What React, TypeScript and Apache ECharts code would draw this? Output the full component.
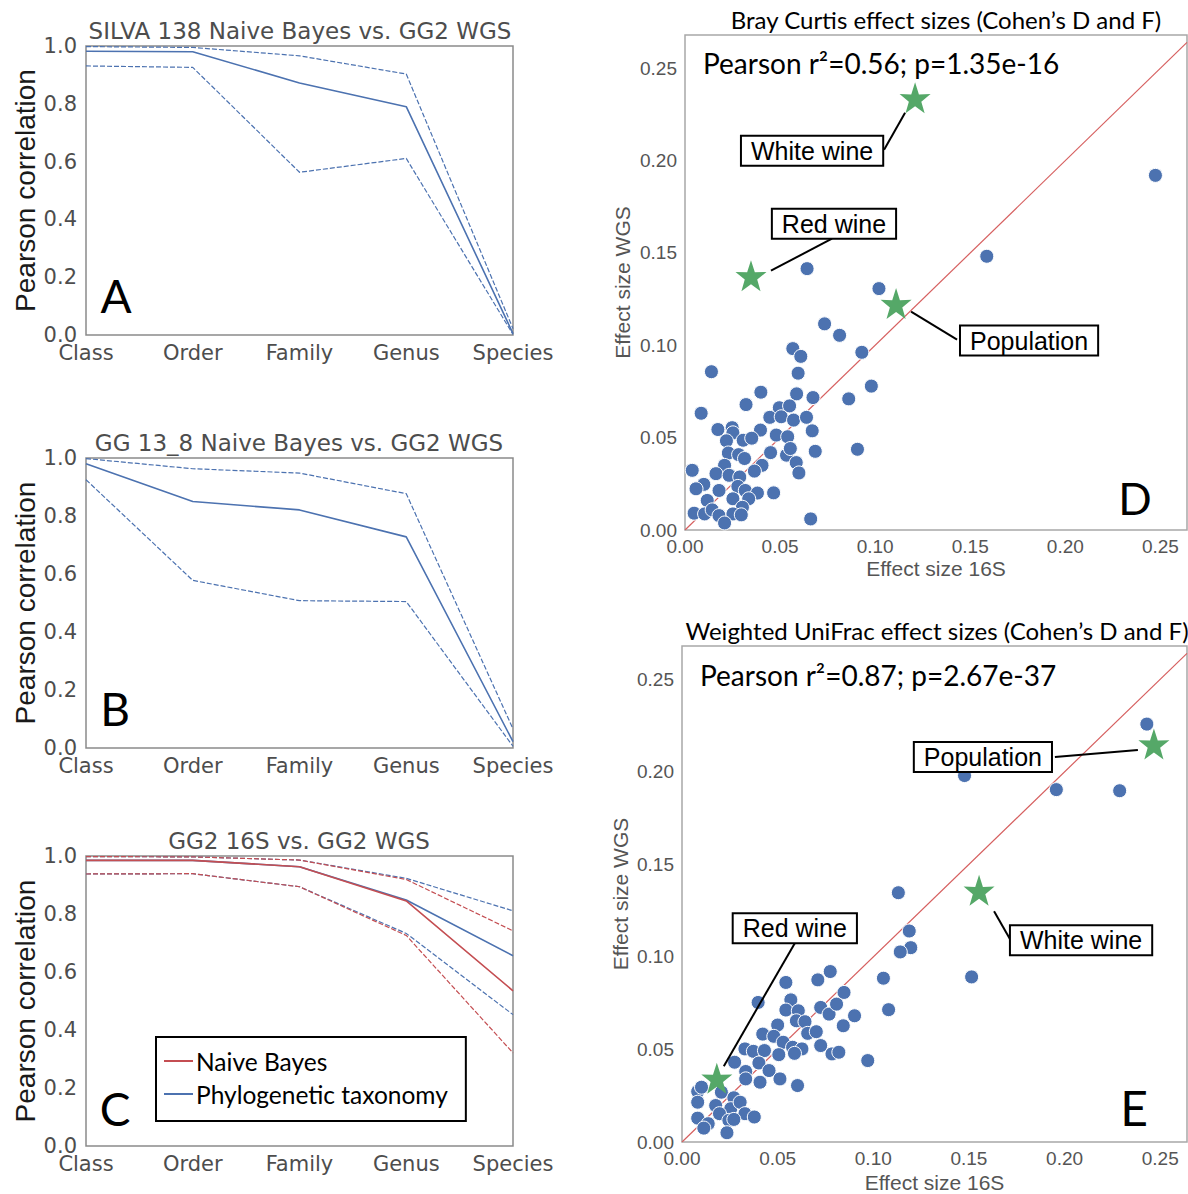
import React, { useEffect, useRef } from 'react';
import * as echarts from 'echarts';

// ---------- Data ----------
const CATEGORIES = ['Class', 'Order', 'Family', 'Genus', 'Species'];
const Y_TICKS_CORR = [0, 0.2, 0.4, 0.6, 0.8, 1.0];

// Panel A: SILVA 138 Naive Bayes vs. GG2 WGS
const silvaMean = [0.982, 0.98, 0.872, 0.79, 0.005];
const silvaUpper = [0.998, 0.995, 0.966, 0.903, 0.022];
const silvaLower = [0.931, 0.926, 0.563, 0.611, 0.002];

// Panel B: GG 13_8 Naive Bayes vs. GG2 WGS
const gg138Mean = [0.98, 0.85, 0.821, 0.728, 0.022];
const gg138Upper = [0.998, 0.963, 0.948, 0.877, 0.066];
const gg138Lower = [0.925, 0.578, 0.508, 0.505, 0.006];

// Panel C: GG2 16S vs. GG2 WGS
const nbMean = [0.985, 0.985, 0.963, 0.845, 0.535];
const nbUpper = [0.998, 0.997, 0.986, 0.919, 0.742];
const nbLower = [0.938, 0.939, 0.894, 0.726, 0.321];
const phyMean = [0.985, 0.985, 0.963, 0.848, 0.656];
const phyUpper = [0.998, 0.997, 0.986, 0.923, 0.811];
const phyLower = [0.938, 0.939, 0.894, 0.733, 0.453];

// Panel D: Bray Curtis effect sizes [16S, WGS]
const brayPoints = [
  [0.102, 0.1307], [0.0734, 0.1116], [0.0813, 0.1054], [0.0567, 0.0982], [0.0609, 0.094],
  [0.093, 0.0962], [0.0139, 0.0857], [0.0595, 0.0849], [0.0399, 0.0746], [0.0587, 0.0737],
  [0.0673, 0.0717], [0.098, 0.0779], [0.0861, 0.071], [0.0085, 0.0632], [0.0321, 0.0679],
  [0.0496, 0.0662], [0.055, 0.0672], [0.0446, 0.061], [0.0506, 0.0613], [0.0571, 0.0595],
  [0.0639, 0.061], [0.0173, 0.0544], [0.0248, 0.0554], [0.0252, 0.0526], [0.0397, 0.0541],
  [0.0669, 0.0537], [0.0218, 0.0483], [0.0306, 0.0486], [0.0351, 0.0497], [0.048, 0.0514],
  [0.054, 0.0505], [0.0228, 0.0417], [0.0282, 0.0408], [0.0313, 0.0387], [0.045, 0.0419],
  [0.0534, 0.0405], [0.0554, 0.0441], [0.0685, 0.0426], [0.0907, 0.0437], [0.0208, 0.035],
  [0.0405, 0.035], [0.0585, 0.0365], [0.0599, 0.0309], [0.0038, 0.0323], [0.0163, 0.0305],
  [0.0232, 0.0296], [0.0288, 0.0287], [0.0365, 0.0319], [0.0099, 0.0247], [0.0058, 0.0223],
  [0.0179, 0.0214], [0.0278, 0.0236], [0.0317, 0.0214], [0.0381, 0.02], [0.0466, 0.0201],
  [0.0117, 0.016], [0.0252, 0.0169], [0.0335, 0.0169], [0.0302, 0.0123], [0.0048, 0.0091],
  [0.0103, 0.0087], [0.0143, 0.0109], [0.0179, 0.0078], [0.0252, 0.0087], [0.0296, 0.0082],
  [0.0208, 0.0038], [0.0661, 0.006], [0.0642, 0.1415], [0.1587, 0.1482], [0.2474, 0.192],
];
const brayStarNames = ['White wine', 'Red wine', 'Population'];
const brayStar16S = [0.121, 0.0347, 0.111];
const brayStarWGS = [0.234, 0.1377, 0.1226];

// Panel E: Weighted UniFrac effect sizes [16S, WGS]
const unifracPoints = [
  [0.243, 0.2258], [0.1477, 0.198], [0.1957, 0.1904], [0.2288, 0.1898], [0.1131, 0.1347],
  [0.1188, 0.114], [0.1196, 0.105], [0.1141, 0.1027], [0.1053, 0.0885], [0.1514, 0.0892],
  [0.108, 0.0715], [0.0543, 0.0862], [0.071, 0.0876], [0.0775, 0.0921], [0.0847, 0.0808],
  [0.0398, 0.0754], [0.0569, 0.0768], [0.0543, 0.0713], [0.0608, 0.0709], [0.0725, 0.0727],
  [0.0769, 0.0691], [0.0808, 0.0745], [0.0902, 0.0682], [0.0598, 0.0655], [0.0643, 0.065],
  [0.0843, 0.0628], [0.05, 0.0632], [0.0422, 0.0583], [0.048, 0.0571], [0.0657, 0.0587],
  [0.0702, 0.0596], [0.0529, 0.0539], [0.0578, 0.0512], [0.0627, 0.0503], [0.0725, 0.0521],
  [0.0784, 0.0476], [0.082, 0.0485], [0.0971, 0.044], [0.0329, 0.0503], [0.0373, 0.049],
  [0.0431, 0.0494], [0.0506, 0.0472], [0.0588, 0.0479], [0.0275, 0.0431], [0.0402, 0.0427],
  [0.0333, 0.0381], [0.0455, 0.0386], [0.0333, 0.0341], [0.0408, 0.0323], [0.0512, 0.0341],
  [0.0604, 0.0305], [0.0082, 0.0273], [0.0102, 0.0296], [0.0206, 0.0269], [0.0271, 0.0239],
  [0.0082, 0.0215], [0.0176, 0.0197], [0.0255, 0.018], [0.0304, 0.0215], [0.0196, 0.0153],
  [0.0245, 0.0117], [0.0329, 0.0153], [0.0378, 0.0135], [0.0082, 0.0129], [0.0137, 0.0099],
  [0.0114, 0.0075], [0.0235, 0.005], [0.0271, 0.0122],
];
const unifracStarNames = ['Population', 'White wine', 'Red wine'];
const unifracStar16S = [0.2467, 0.1553, 0.0182];
const unifracStarWGS = [0.2151, 0.136, 0.0345];

const EFFECT_TICKS = [0, 0.05, 0.1, 0.15, 0.2, 0.25];

// ---------- Layout / style (not data) ----------
const BLUE = '#4c72b0';
const RED = '#c44e52';
const GREEN = '#55a868';
// label-box centre offsets from each star, in px
const BRAY_LABEL_OFFSETS = [[-103, 53], [83, -52], [133, 37]];
const UNIFRAC_LABEL_OFFSETS = [[-171, 13], [102, 50], [78, -150]];
// leader line [start offset, end offset] from each star, in px
const BRAY_LEADERS = [[[-10, 15], [-31, 52]], [[20, -5], [81, -37]], [[15, 8], [61, 36]]];
const UNIFRAC_LEADERS = [[[-16, 6], [-99, 13]], [[15, 21], [31, 49]], [[7, -12], [78, -135]]];
const STAR_PATH =
  'path://M50,0 L61.8,35.3 L97.6,34.5 L69.1,56.7 L79.4,90.5 L50,70 L20.6,90.5 L30.9,56.7 L2.4,34.5 L38.2,35.3 Z';

function lineSeries(name: string, data: number[], color: string, dashed: boolean, idx: number) {
  return {
    type: 'line',
    name,
    data,
    xAxisIndex: idx,
    yAxisIndex: idx,
    symbol: 'none',
    silent: true,
    color,
    itemStyle: { color },
    lineStyle: { color, width: dashed ? 1.2 : 1.6, type: dashed ? [5, 2] : 'solid' },
  };
}

function corrAxes(idx: number) {
  const x = {
    type: 'category',
    gridIndex: idx,
    data: CATEGORIES,
    boundaryGap: false,
    axisLine: { show: false },
    axisTick: { show: false },
    splitLine: { show: false },
    axisLabel: { color: '#4d4d4d', fontFamily: 'DejaVu Sans', fontSize: 21, margin: 7 },
  };
  const y = {
    type: 'value',
    gridIndex: idx,
    min: Y_TICKS_CORR[0],
    max: Y_TICKS_CORR[Y_TICKS_CORR.length - 1],
    interval: 0.2,
    axisLine: { show: false },
    axisTick: { show: false },
    splitLine: { show: false },
    axisLabel: {
      color: '#4d4d4d',
      fontFamily: 'DejaVu Sans',
      fontSize: 21,
      margin: 9,
      formatter: (v: number) => v.toFixed(1),
    },
    name: 'Pearson correlation',
    nameLocation: 'middle',
    nameGap: 46,
    nameTextStyle: { fontFamily: 'Liberation Sans', fontSize: 28, color: '#1a1a1a' },
  };
  return { x, y };
}

function effectAxes(idx: number, xNameGap: number, yNameGap: number) {
  const common = {
    type: 'value',
    gridIndex: idx,
    min: EFFECT_TICKS[0],
    interval: 0.05,
    axisLine: { show: false },
    axisTick: { show: false },
    splitLine: { show: false },
    nameLocation: 'middle',
    nameTextStyle: { fontFamily: 'Liberation Sans', fontSize: 21, color: '#555' },
  };
  const labelStyle = {
    color: '#555',
    fontFamily: 'Liberation Sans',
    fontSize: 19,
    showMaxLabel: false,
    formatter: (v: number) => v.toFixed(2),
  };
  const x = { ...common, max: 0.264, name: 'Effect size 16S', nameGap: xNameGap, axisLabel: { ...labelStyle, margin: 7 } };
  const y = { ...common, max: 0.268, name: 'Effect size WGS', nameGap: yNameGap, axisLabel: { ...labelStyle, margin: 8 } };
  return { x, y };
}

function effectSeries(
  idx: number,
  points: number[][],
  starNames: string[],
  star16S: number[],
  starWGS: number[],
  offsets: number[][],
) {
  return [
    {
      type: 'line',
      xAxisIndex: idx,
      yAxisIndex: idx,
      data: [[0, 0], [0.264, 0.264]],
      symbol: 'none',
      silent: true,
      lineStyle: { color: '#d65f5f', width: 1.2 },
      z: 2,
    },
    {
      type: 'scatter',
      xAxisIndex: idx,
      yAxisIndex: idx,
      data: points,
      symbolSize: 14,
      silent: true,
      itemStyle: { color: BLUE, borderColor: '#fff', borderWidth: 1, opacity: 1 },
      z: 3,
    },
    {
      type: 'scatter',
      xAxisIndex: idx,
      yAxisIndex: idx,
      data: starNames.map((n, i) => ({ name: n, value: [star16S[i], starWGS[i]] })),
      symbol: STAR_PATH,
      symbolSize: 31,
      silent: true,
      itemStyle: { color: GREEN, opacity: 1 },
      z: 5,
      label: {
        show: true,
        position: 'inside',
        formatter: (p: any) => p.name,
        fontFamily: 'Liberation Sans',
        fontSize: 25,
        lineHeight: 27,
        color: '#000',
        backgroundColor: '#fff',
        borderColor: '#000',
        borderWidth: 2,
        padding: [1, 9, 0, 9],
      },
      labelLayout: (p: any) => ({ dx: offsets[p.dataIndex][0], dy: offsets[p.dataIndex][1] }),
    },
  ];
}

export default function App() {
  const ref = useRef<HTMLDivElement>(null);

  useEffect(() => {
    if (!ref.current) return;
    const chart = echarts.init(ref.current, undefined, { renderer: 'svg' });

    const a = corrAxes(0);
    const b = corrAxes(1);
    const c = corrAxes(2);
    const d = effectAxes(3, 28, 52);
    const e = effectAxes(4, 30, 51);

    const gridBase = { show: true, borderColor: '#8a8a8a', borderWidth: 1.5, containLabel: false };
    const gridEffect = { show: true, borderColor: '#a8a8a8', borderWidth: 1.5, containLabel: false };

    const titleText = (text: string, x: number, y: number, size: number, font: string, color: string) => ({
      type: 'text',
      x,
      y,
      style: { text, fill: color, font: `${size}px "${font}"`, textAlign: 'center', textVerticalAlign: 'middle' },
      silent: true,
      z: 10,
    });
    const leftText = (text: string, x: number, y: number, size: number, font: string) => ({
      type: 'text',
      x,
      y,
      style: { text, fill: '#000', font: `${size}px "${font}"`, textAlign: 'left', textVerticalAlign: 'middle' },
      silent: true,
      z: 10,
    });

    const texts = [
      titleText('SILVA 138 Naive Bayes vs. GG2 WGS', 300, 31, 23, 'DejaVu Sans', '#4d4d4d'),
      titleText('GG 13_8 Naive Bayes vs. GG2 WGS', 299, 443, 23, 'DejaVu Sans', '#4d4d4d'),
      titleText('GG2 16S vs. GG2 WGS', 299, 841, 23, 'DejaVu Sans', '#4d4d4d'),
      titleText('A', 116, 295, 46, 'Lato', '#000'),
      titleText('B', 115, 708, 46, 'Lato', '#000'),
      titleText('C', 115, 1108, 46, 'Lato', '#000'),
      titleText('Bray Curtis effect sizes (Cohen’s D and F)', 946, 19, 24, 'Lato', '#000'),
      titleText('Weighted UniFrac effect sizes (Cohen’s D and F)', 937, 630, 24, 'Lato', '#000'),
      leftText('Pearson r²=0.56; p=1.35e-16', 703, 63, 28, 'Lato'),
      leftText('Pearson r²=0.87; p=2.67e-37', 700, 675, 28, 'Lato'),
      titleText('D', 1135, 498, 44, 'Lato', '#000'),
      titleText('E', 1134, 1107, 48, 'Lato', '#000'),
    ];

    chart.setOption({
      animation: false,
      backgroundColor: '#fff',
      grid: [
        { ...gridBase, left: 86, top: 46, width: 427, height: 289 },
        { ...gridBase, left: 86, top: 458, width: 427, height: 290 },
        { ...gridBase, left: 86, top: 856, width: 427, height: 290 },
        { ...gridEffect, left: 685, top: 35, width: 502, height: 495 },
        { ...gridEffect, left: 682, top: 646, width: 505, height: 497 },
      ],
      xAxis: [a.x, b.x, c.x, d.x, e.x],
      yAxis: [a.y, b.y, c.y, d.y, e.y],
      legend: {
        data: ['Naive Bayes', 'Phylogenetic taxonomy'],
        orient: 'vertical',
        left: 156,
        top: 1037,
        icon: 'rect',
        itemWidth: 29,
        itemHeight: 2,
        itemGap: 7,
        selectedMode: false,
        borderColor: '#000',
        borderWidth: 2,
        padding: [11, 18, 14, 8],
        textStyle: { fontFamily: 'Lato', fontSize: 24.5, color: '#000', lineHeight: 26, padding: [0, 0, 0, -2] },
      },
      series: [
        lineSeries('A mean', silvaMean, BLUE, false, 0),
        lineSeries('A upper', silvaUpper, BLUE, true, 0),
        lineSeries('A lower', silvaLower, BLUE, true, 0),
        lineSeries('B mean', gg138Mean, BLUE, false, 1),
        lineSeries('B upper', gg138Upper, BLUE, true, 1),
        lineSeries('B lower', gg138Lower, BLUE, true, 1),
        lineSeries('Phylogenetic taxonomy', phyMean, BLUE, false, 2),
        lineSeries('Phylo upper', phyUpper, BLUE, true, 2),
        lineSeries('Phylo lower', phyLower, BLUE, true, 2),
        lineSeries('Naive Bayes', nbMean, RED, false, 2),
        lineSeries('NB upper', nbUpper, RED, true, 2),
        lineSeries('NB lower', nbLower, RED, true, 2),
        ...effectSeries(3, brayPoints, brayStarNames, brayStar16S, brayStarWGS, BRAY_LABEL_OFFSETS),
        ...effectSeries(4, unifracPoints, unifracStarNames, unifracStar16S, unifracStarWGS, UNIFRAC_LABEL_OFFSETS),
      ],
      graphic: texts,
    });

    // leader lines from the stars (positioned through the chart's own scales)
    const leaders: any[] = [];
    const addLeaders = (gridIndex: number, xs: number[], ys: number[], segs: number[][][]) => {
      xs.forEach((xv, i) => {
        const p = chart.convertToPixel({ gridIndex }, [xv, ys[i]]) as number[];
        const [s, t] = segs[i];
        leaders.push({
          type: 'line',
          shape: { x1: p[0] + s[0], y1: p[1] + s[1], x2: p[0] + t[0], y2: p[1] + t[1] },
          style: { stroke: '#000', lineWidth: 2 },
          silent: true,
          z: 4,
        });
      });
    };
    addLeaders(3, brayStar16S, brayStarWGS, BRAY_LEADERS);
    addLeaders(4, unifracStar16S, unifracStarWGS, UNIFRAC_LEADERS);
    chart.setOption({ graphic: [...texts, ...leaders] });

    return () => chart.dispose();
  }, []);

  return (
    <div
      ref={ref}
      style={{ position: 'absolute', left: 0, top: 0, width: 1188, height: 1194, background: '#fff' }}
    />
  );
}
